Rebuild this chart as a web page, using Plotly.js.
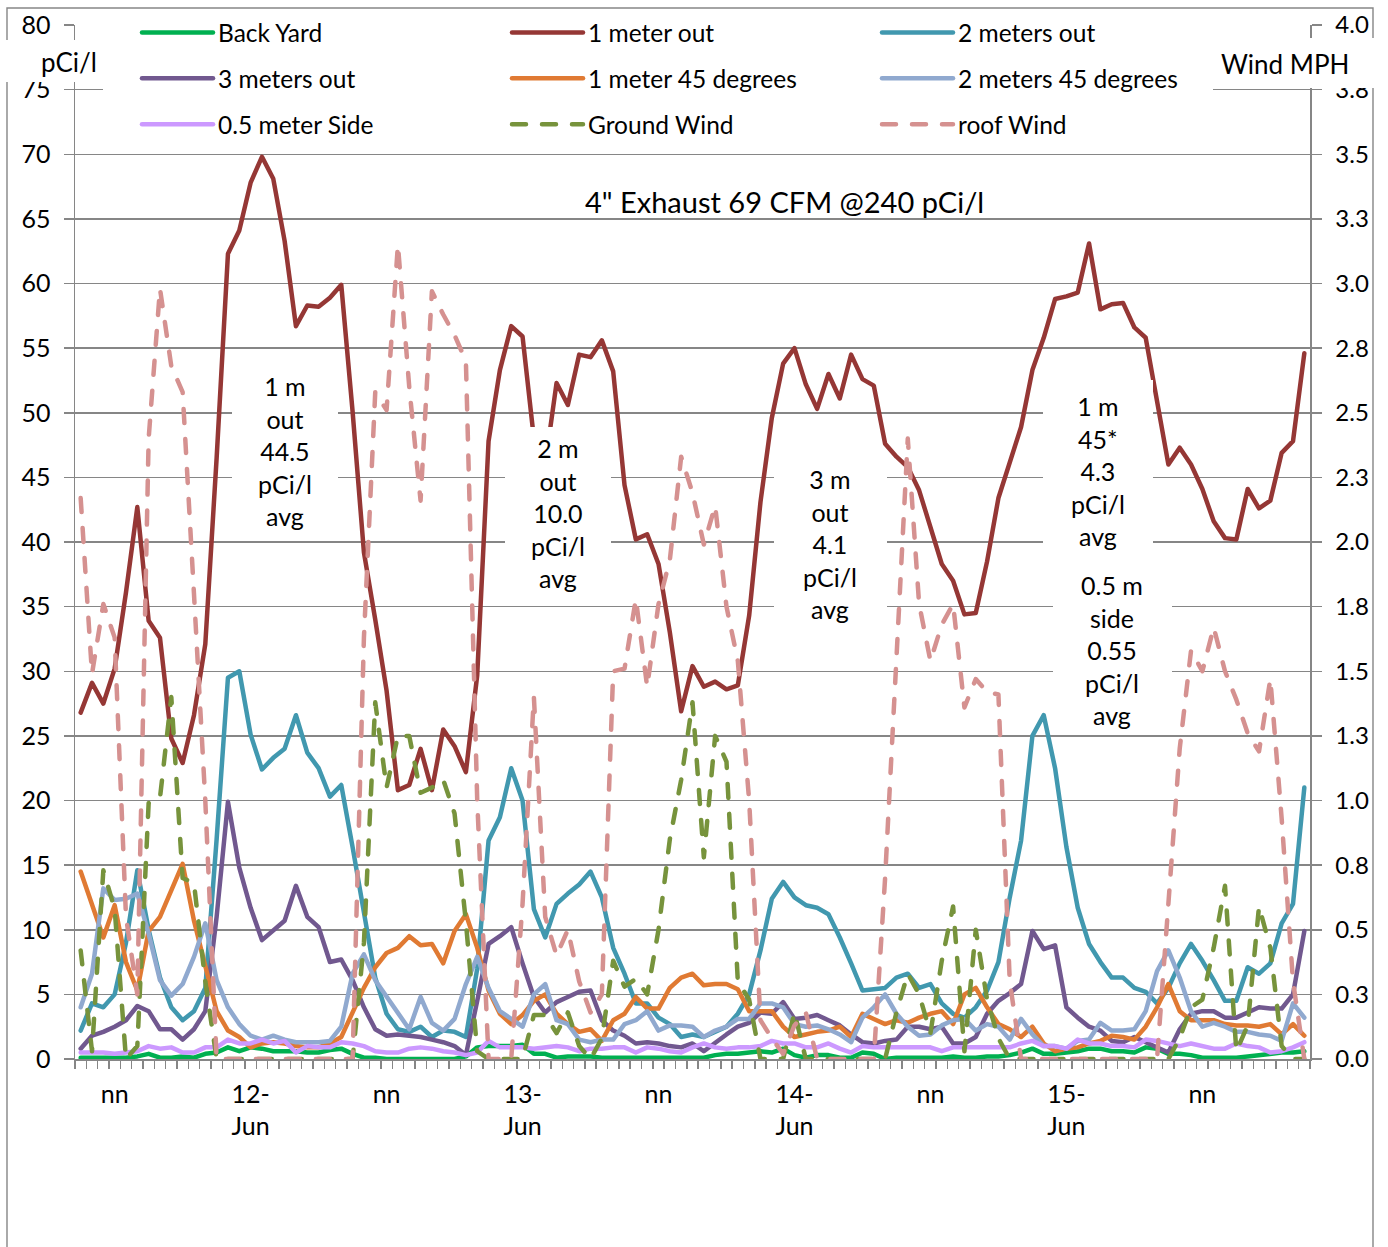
<!DOCTYPE html>
<html><head><meta charset="utf-8">
<script src="https://cdn.plot.ly/plotly-3.0.1.min.js"></script>
<style>
html,body{margin:0;padding:0;background:#fff;}
#chart{width:1388px;height:1247px;}
.scatterlayer .js-line, .legendlines .js-line {stroke-linejoin:round; stroke-linecap:round;}
</style></head><body><div id="chart"></div><script>
// hourly readings, 11-Jun 09:00 (index 0) to 15-Jun 21:00 (index 108)
const hours = [];
for (let i = 0; i <= 108; i++) hours.push(i);

const xTickVals = [3, 15, 27, 39, 51, 63, 75, 87, 99];
const xTickText = ['nn', '12-<br>Jun', 'nn', '13-<br>Jun', 'nn', '14-<br>Jun', 'nn', '15-<br>Jun', 'nn'];

const y2TickVals = [0, 0.25, 0.5, 0.75, 1, 1.25, 1.5, 1.75, 2, 2.25, 2.5, 2.75, 3, 3.25, 3.5, 3.75, 4];
const y2TickText = ['0.0','0.3','0.5','0.8','1.0','1.3','1.5','1.8','2.0','2.3','2.5','2.8','3.0','3.3','3.5','3.8','4.0'];

const backYard = [0.1,0.1,0.1,0.1,0.1,0.2,0.4,0.1,0.1,0.2,
 0.1,0.4,0.5,0.9,0.6,0.9,0.8,0.6,0.6,0.6,
 0.5,0.5,0.7,0.8,0.4,0.1,0.1,0.0,0.0,0.0,
 0.0,0.0,0.0,0.0,0.2,0.9,1.0,1.0,1.0,1.1,
 0.4,0.4,0.1,0.2,0.2,0.2,0.1,0.1,0.1,0.1,
 0.1,0.1,0.1,0.1,0.1,0.1,0.3,0.4,0.4,0.5,
 0.6,0.5,0.8,0.3,0.1,0.3,0.3,0.1,0.1,0.5,
 0.4,0.0,0.1,0.1,0.1,0.1,0.1,0.2,0.1,0.1,
 0.2,0.2,0.3,0.5,0.8,0.4,0.4,0.5,0.6,0.8,
 0.8,0.6,0.6,0.5,0.9,0.8,0.4,0.4,0.3,0.1,
 0.1,0.1,0.1,0.2,0.3,0.4,0.5,0.5,0.6];

const oneMeterOut = [26.8,29.1,27.5,30.2,36.1,42.7,33.9,32.6,24.8,22.9,
 26.6,32.1,46.5,62.3,64.1,67.8,69.8,68.1,63.3,56.7,
 58.3,58.2,58.9,59.9,50.1,39.2,34.0,28.5,20.8,21.2,
 24.0,20.8,25.5,24.2,22.2,29.7,47.8,53.3,56.7,55.9,
 48.0,46.0,52.3,50.6,54.5,54.3,55.6,53.2,44.4,40.2,
 40.6,38.3,33.0,26.9,30.4,28.8,29.2,28.6,28.9,34.3,
 43.1,49.6,53.8,55.0,52.2,50.3,53.0,51.1,54.5,52.6,
 52.1,47.6,46.6,45.8,44.0,41.1,38.3,37.0,34.4,34.5,
 38.5,43.4,46.2,48.9,53.3,55.8,58.8,59.0,59.3,63.1,
 58.0,58.4,58.5,56.6,55.8,51.0,46.0,47.3,46.0,44.1,
 41.6,40.3,40.2,44.1,42.6,43.2,46.9,47.8,54.6];

const twoMetersOut = [2.2,4.3,4.0,5.0,9.0,14.6,10.0,6.3,4.0,3.0,
 3.7,5.5,17.0,29.5,30.0,25.1,22.4,23.3,24.0,26.6,
 23.7,22.5,20.3,21.2,16.4,11.2,6.3,3.5,2.3,2.1,
 2.5,1.7,2.2,2.1,1.7,7.0,16.9,18.7,22.5,20.0,
 11.6,9.4,12.0,12.8,13.5,14.5,12.5,8.6,6.6,4.3,
 4.3,3.2,2.7,1.7,1.9,1.7,2.1,2.5,3.5,5.0,
 8.4,12.4,13.7,12.5,11.9,11.7,11.2,9.4,7.4,5.3,
 5.4,5.5,6.3,6.6,5.5,5.8,4.3,3.5,3.2,4.0,
 5.3,7.5,12.5,16.9,25.0,26.6,22.5,16.4,11.7,8.9,
 7.5,6.3,6.3,5.5,5.2,4.3,5.5,7.4,8.9,7.6,
 6.1,4.5,4.5,7.1,6.6,7.4,10.5,12.0,21.0];

const threeMetersOut = [0.8,1.8,2.1,2.5,3.0,4.1,3.7,2.3,2.3,1.5,
 2.3,3.7,11.0,19.9,14.8,11.7,9.2,9.9,10.7,13.4,
 11.0,10.2,7.5,7.7,6.1,4.0,2.3,1.8,1.9,1.8,
 1.7,1.5,1.3,1.0,0.3,4.5,8.9,9.5,10.2,7.4,
 4.8,3.6,4.4,4.8,5.2,5.3,3.0,2.2,1.8,1.2,
 1.3,1.2,1.0,0.9,1.2,0.6,1.3,1.9,2.5,2.8,
 3.6,3.5,4.4,3.1,3.2,3.4,3.0,2.6,1.9,1.3,
 1.2,1.4,1.5,2.5,2.5,2.3,2.5,1.2,1.2,1.7,
 3.5,4.5,5.1,5.8,9.9,8.5,8.8,4.0,3.2,2.5,
 2.2,1.4,1.3,1.7,1.3,0.9,0.5,2.3,3.5,3.7,
 3.7,3.2,3.2,3.6,4.0,3.9,3.9,5.0,9.9];

const oneMeter45 = [14.5,11.9,9.4,11.9,7.5,5.3,9.9,11.0,13.0,15.1,
 10.7,7.1,3.7,2.2,1.7,0.9,1.2,1.3,1.2,1.0,
 0.9,0.9,1.2,1.7,3.7,5.5,7.1,8.2,8.6,9.5,
 8.8,8.9,7.4,9.9,11.2,8.6,5.3,3.5,2.7,3.4,
 4.5,5.0,3.5,2.7,2.1,2.3,1.4,3.0,3.5,4.8,
 3.9,3.9,5.5,6.3,6.6,5.7,5.8,5.8,5.4,3.7,
 3.7,3.7,2.5,1.7,1.9,2.1,2.2,2.5,1.7,3.5,
 3.1,2.7,3.0,2.8,3.2,3.5,3.7,2.7,5.0,5.5,
 4.0,2.7,2.3,1.7,2.5,1.2,0.6,0.8,0.9,1.2,
 1.4,1.8,1.7,1.5,2.5,4.0,5.8,3.7,3.0,3.0,
 3.0,2.7,2.6,2.6,2.5,2.7,1.9,2.7,1.8];

const twoMeters45 = [4.0,6.6,13.2,12.3,12.4,12.8,9.7,6.1,4.9,5.8,
 7.9,10.5,6.1,4.0,2.7,1.8,1.5,1.8,1.5,1.3,
 1.3,1.3,1.4,2.5,6.6,8.1,6.1,4.8,3.5,2.3,
 4.8,2.8,2.2,3.1,5.8,7.9,5.5,3.7,3.1,2.5,
 5.0,5.8,3.0,2.7,1.5,1.3,1.5,1.5,2.7,3.0,
 3.7,2.2,2.6,2.6,2.5,1.7,2.2,2.5,3.1,3.1,
 4.3,4.3,4.0,2.7,2.5,2.6,2.3,1.9,1.3,3.2,
 4.0,5.0,3.5,2.5,1.8,1.9,2.6,3.0,3.1,2.2,
 2.7,2.5,1.5,3.1,1.9,1.0,1.0,0.8,1.4,1.5,
 2.8,2.2,2.2,2.3,3.7,6.8,8.4,6.3,3.7,2.5,
 2.8,2.5,2.1,2.1,1.9,1.8,1.4,4.3,3.2];

const halfMeterSide = [0.5,0.5,0.5,0.4,0.5,0.6,1.0,0.8,0.9,0.5,
 0.5,0.9,0.9,1.5,1.2,1.2,1.5,1.2,1.4,0.5,
 1.0,0.9,0.9,1.3,1.2,1.0,0.6,0.5,0.5,0.8,
 0.9,0.8,0.6,0.5,0.3,0.5,1.4,0.9,0.9,0.9,
 0.8,0.9,1.0,0.9,0.6,0.8,0.8,0.9,0.9,0.5,
 0.9,0.8,0.6,0.5,0.9,1.2,0.9,0.8,0.9,0.9,
 1.0,1.4,1.2,1.2,0.9,0.9,1.2,0.8,0.5,1.0,
 0.9,0.9,0.9,0.9,0.9,0.9,0.6,0.9,0.9,0.9,
 0.9,0.9,0.9,1.2,1.4,1.0,1.0,0.8,1.5,1.2,
 1.2,1.0,1.0,0.9,1.5,1.4,1.2,1.0,1.2,1.0,
 0.8,0.8,1.2,1.0,0.9,0.5,0.6,0.9,1.3];

// wind, MPH (right axis)
const groundWind = [0.42,0.03,0.73,0.58,0,0.05,0.99,1.01,1.40,0.70,
 0.68,0.30,0,0,0,0,0,0,0,0,
 0,0,0,0,0,0.45,1.38,1.05,1.25,1.25,
 1.03,1.05,1.08,0.95,0.53,0.03,0,0,0,0,
 0.17,0.17,0.10,0.18,0.05,0,0.08,0.38,0.28,0.31,
 0.25,0.50,0.85,1.08,1.38,0.78,1.25,1.15,0.30,0.23,
 0,0,0,0.18,0,0,0,0,0,0,
 0,0,0.18,0.33,0.25,0.10,0.38,0.59,0.03,0.50,
 0.23,0.08,0,0,0,0,0,0,0,0,
 0,0,0,0,0,0,0,0.08,0.20,0.23,
 0.43,0.67,0.03,0.13,0.59,0.43,0.05,0,0];

const roofWind = [2.17,1.49,1.76,1.63,0.55,0.25,2.40,2.98,2.68,2.58,
 1.80,1.00,0,0,0,0,0,0,0,0,
 0,0,0,0,0,1.63,2.58,2.51,3.15,2.60,
 2.16,2.97,2.88,2.80,2.70,1.00,0,0,0,0.60,
 1.40,0.55,0.40,0.50,0.30,0.18,0.25,1.50,1.51,1.78,
 1.44,1.76,1.93,2.33,2.19,1.99,2.14,1.75,1.54,1.00,
 0.15,0.08,0.02,0.13,0.18,0,0,0,0,0,
 0,0.70,1.55,2.40,1.76,1.54,1.68,1.76,1.36,1.47,
 1.42,1.41,0.30,0,0,0,0,0,0,0,
 0,0,0,0,0,0,0.60,1.20,1.58,1.50,
 1.67,1.50,1.39,1.26,1.19,1.47,0.93,0.30,0];

// ---- layout geometry (pixels) ----
const L = 75, R = 1310, T = 25, B = 1059;
const fx = p => (p - L) / (R - L);
const fy = p => (B - p) / (B - T);
const FONT = 'Lato, "Open Sans", sans-serif';
const GRID = '#868686';
const LW = 4.5;

function tr(name, y, color, leg, dash, axis) {
  return {
    type: 'scatter', mode: 'lines', x: hours, y: y, name: name,
    line: {color: color, width: LW, dash: dash || 'solid'},
    legend: leg, legendgroup: name, yaxis: axis || 'y', hoverinfo: 'skip'
  };
}
const DASH = '14px,16px';
const data = [
  tr('Back Yard', backYard, '#00B050', 'legend'),
  tr('1 meter out', oneMeterOut, '#953735', 'legend2'),
  tr('2 meters out', twoMetersOut, '#4198AF', 'legend3'),
  tr('3 meters out', threeMetersOut, '#71588F', 'legend'),
  tr('1 meter 45 degrees', oneMeter45, '#E07A33', 'legend2'),
  tr('2 meters 45 degrees', twoMeters45, '#90A9CF', 'legend3'),
  tr('0.5 meter Side', halfMeterSide, '#CC99FF', 'legend'),
  tr('Ground Wind', groundWind, '#77933C', 'legend2', DASH, 'y2'),
  tr('roof Wind', roofWind, '#D59190', 'legend3', DASH, 'y2')
];

function whiteBox(x0, y0, x1, y1) {
  return {type: 'rect', xref: 'paper', yref: 'paper', layer: 'above',
    x0: fx(x0), x1: fx(x1), y0: fy(y1), y1: fy(y0),
    fillcolor: '#ffffff', line: {width: 0}};
}
const shapes = [
  {type: 'rect', xref: 'paper', yref: 'paper', layer: 'above',
   x0: fx(7), x1: fx(1373), y0: fy(1300), y1: fy(8),
   fillcolor: 'rgba(0,0,0,0)', line: {color: GRID, width: 1.4}},
  whiteBox(103, 12, 1213, 145),
  whiteBox(-5, 40, 100, 82),
  whiteBox(1213, 38, 1385, 88),
  whiteBox(232, 368, 338, 535),
  whiteBox(505, 427, 611, 600),
  whiteBox(774, 455, 887, 640),
  whiteBox(1043, 380, 1153, 553),
  whiteBox(1053, 553, 1172, 728)
];

function note(text, x, y, size) {
  return {xref: 'paper', yref: 'paper', x: fx(x), y: fy(y), text: text,
    showarrow: false, xanchor: 'center', yanchor: 'middle',
    font: {family: FONT, size: size || 25, color: '#000'}};
}
const annotations = [
  note('4" Exhaust 69 CFM @240 pCi/l', 784, 201, 29),
  note('pCi/l', 69, 62, 26),
  note('Wind MPH', 1285, 64, 26),
  note('1 m<br>out<br>44.5<br>pCi/l<br>avg', 285, 451),
  note('2 m<br>out<br>10.0<br>pCi/l<br>avg', 558, 513),
  note('3 m<br>out<br>4.1<br>pCi/l<br>avg', 830, 544),
  note('1 m<br>45*<br>4.3<br>pCi/l<br>avg', 1098, 471),
  note('0.5 m<br>side<br>0.55<br>pCi/l<br>avg', 1112, 650)
];

function legendAt(x) {
  return {x: fx(x), y: fy(10), xanchor: 'left', yanchor: 'top',
    orientation: 'v', bgcolor: 'rgba(0,0,0,0)', borderwidth: 0,
    traceorder: 'grouped', tracegroupgap: 11, itemwidth: 71,
    font: {family: FONT, size: 24.5, color: '#000'}};
}

const layout = {
  width: 1388, height: 1247,
  margin: {l: L, r: 1388 - R, t: T, b: 1247 - B, pad: 0, autoexpand: false},
  paper_bgcolor: '#fff', plot_bgcolor: '#fff',
  font: {family: FONT, size: 24, color: '#000'},
  showlegend: true,
  legend: legendAt(137), legend2: legendAt(507), legend3: legendAt(877),
  xaxis: {
    range: [-0.5, 108.5], tickmode: 'array', tickvals: xTickVals, ticktext: xTickText,
    ticks: '', showgrid: false, zeroline: false,
    showline: true, linecolor: GRID, linewidth: 1.5,
    ticklabelstandoff: 12, automargin: false,
    tickfont: {family: FONT, size: 25, color: '#000'},
    minor: {tickmode: 'linear', tick0: -0.5, dtick: 1, ticks: 'outside', ticklen: 8,
            tickcolor: GRID, tickwidth: 1.4, showgrid: false}
  },
  yaxis: {
    range: [0, 80], tickmode: 'linear', tick0: 0, dtick: 5,
    ticks: 'outside', ticklen: 10, tickcolor: GRID, tickwidth: 1.5,
    showgrid: true, gridcolor: GRID, gridwidth: 1.5, zeroline: false,
    showline: true, linecolor: GRID, linewidth: 1.5,
    ticklabelstandoff: 8, automargin: false,
    tickfont: {family: FONT, size: 25, color: '#000'}
  },
  yaxis2: {
    overlaying: 'y', side: 'right', range: [0, 4],
    tickmode: 'array', tickvals: y2TickVals, ticktext: y2TickText,
    ticks: 'outside', ticklen: 10, tickcolor: GRID, tickwidth: 1.5,
    showgrid: false, zeroline: false,
    showline: true, linecolor: GRID, linewidth: 1.5,
    ticklabelstandoff: 9, automargin: false,
    tickfont: {family: FONT, size: 24, color: '#000'}
  },
  shapes: shapes,
  annotations: annotations
};

Plotly.newPlot('chart', data, layout, {displayModeBar: false, staticPlot: true});
</script></body></html>
